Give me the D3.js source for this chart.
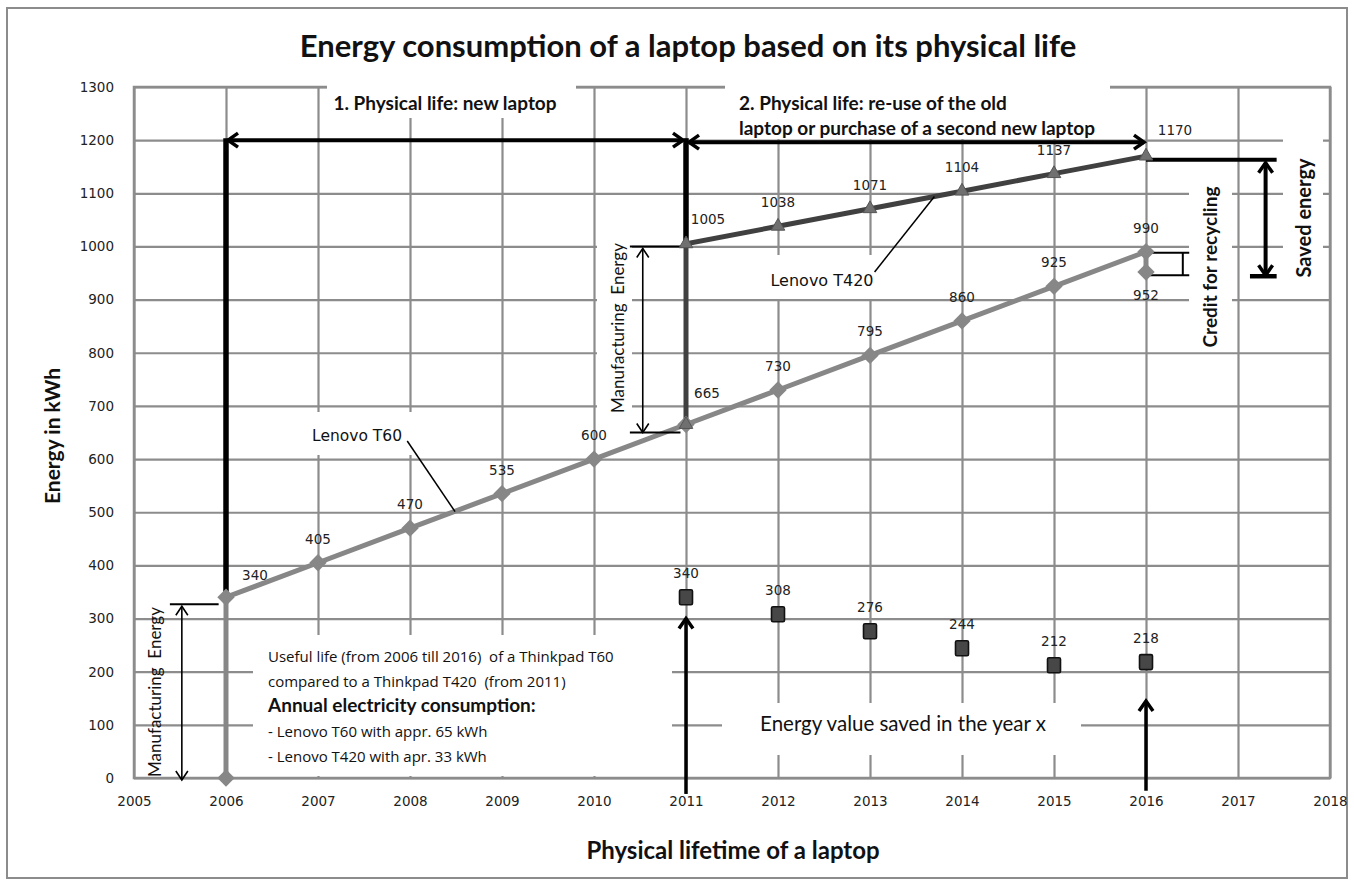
<!DOCTYPE html>
<html>
<head>
<meta charset="utf-8">
<script src="https://cdn.jsdelivr.net/npm/d3@7"></script>
<style>
  body { margin: 0; background: #fff; }
  .calibri { font-family: Lato, "Open Sans", sans-serif; }
  .tahoma { font-family: "DejaVu Sans", sans-serif; }
  .opensans { font-family: "Open Sans", sans-serif; }
  marker { overflow: visible; }
</style>
</head>
<body>
<div id="chart"></div>
<script>
// tick values
const xTickYears = [2005, 2006, 2007, 2008, 2009, 2010, 2011, 2012, 2013, 2014, 2015, 2016, 2017, 2018];
const yTickValues = [0, 100, 200, 300, 400, 500, 600, 700, 800, 900, 1000, 1100, 1200, 1300];

// Lenovo T60: manufacturing in 2006, then ~65 kWh per year, recycling credit at the end
const t60Years  = [2006, 2006, 2007, 2008, 2009, 2010, 2011, 2012, 2013, 2014, 2015, 2016, 2016];
const t60Energy = [0, 340, 405, 470, 535, 600, 665, 730, 795, 860, 925, 990, 952];

// Lenovo T420: bought in 2011 on top of the T60 total, then ~33 kWh per year
const t420Years  = [2011, 2011, 2012, 2013, 2014, 2015, 2016];
const t420Energy = [665, 1005, 1038, 1071, 1104, 1137, 1170];

// energy value saved in the year x
const savedYears  = [2011, 2012, 2013, 2014, 2015, 2016];
const savedEnergy = [340, 308, 276, 244, 212, 218];

const W = 1354, H = 883;
const margin = {top: 87, right: 24, bottom: 105, left: 134};

const svg = d3.select('#chart').append('svg')
    .attr('width', W)
    .attr('height', H);

// outer frame
svg.append('rect')
    .attr('x', 7).attr('y', 8)
    .attr('width', W - 14).attr('height', H - 13)
    .attr('fill', '#fff')
    .attr('stroke', '#8c8c8c')
    .attr('stroke-width', 2);

const x = d3.scaleLinear().domain([2005, 2018]).range([margin.left, W - margin.right]);
const y = d3.scaleLinear().domain([0, 1300]).range([H - margin.bottom, margin.top]);

const plotW = x(2018) - x(2005);
const plotH = y(0) - y(1300);

// axes with gridlines
const yAxis = svg.append('g')
    .attr('transform', `translate(${x(2005)},0)`)
    .call(d3.axisLeft(y).tickValues(yTickValues).tickSize(-plotW).tickPadding(20).tickFormat(d3.format('d')));
const xAxis = svg.append('g')
    .attr('transform', `translate(0,${y(0)})`)
    .call(d3.axisBottom(x).tickValues(xTickYears).tickSize(-plotH).tickPadding(18).tickFormat(d3.format('d')));

[xAxis, yAxis].forEach(g => {
  g.select('.domain').remove();
  g.selectAll('.tick line').attr('stroke', '#8c8c8c').attr('stroke-width', 2.2);
  g.selectAll('.tick text')
      .attr('class', 'tahoma')
      .attr('font-size', 13.5)
      .attr('fill', '#222');
});

// plot border
svg.append('rect')
    .attr('x', x(2005)).attr('y', y(1300))
    .attr('width', plotW).attr('height', plotH)
    .attr('fill', 'none')
    .attr('stroke', '#8c8c8c')
    .attr('stroke-width', 2.5);

// white backgrounds of the text boxes (they hide the gridlines)
const boxes = [
  [327, 79, 249, 39],    // 1. Physical life
  [725, 79, 385, 60],    // 2. Physical life
  [757, 255, 123, 44],   // Lenovo T420
  [300, 412, 118, 43],   // Lenovo T60
  [597, 240, 35, 178],   // Manufacturing Energy (middle)
  [253, 635, 419, 141],  // useful life text
  [722, 703, 359, 52],   // Energy value saved
  [1189, 178, 43, 172],  // Credit for recycling
  [1283, 130, 40, 165]   // Saved energy
];
svg.append('g').selectAll('rect')
  .data(boxes)
  .join('rect')
    .attr('x', d => d[0]).attr('y', d => d[1])
    .attr('width', d => d[2]).attr('height', d => d[3])
    .attr('fill', '#fff');

// arrow heads
const defs = svg.append('defs');
function chevron(id, sw, len, half) {
  defs.append('marker')
      .attr('id', id)
      .attr('markerUnits', 'userSpaceOnUse')
      .attr('viewBox', `${-len - 4} ${-half - 4} ${len + 8} ${2 * half + 8}`)
      .attr('markerWidth', len + 8)
      .attr('markerHeight', 2 * half + 8)
      .attr('refX', 0).attr('refY', 0)
      .attr('orient', 'auto-start-reverse')
    .append('path')
      .attr('d', `M${-len},${-half}L0,0L${-len},${half}`)
      .attr('fill', 'none')
      .attr('stroke', '#000')
      .attr('stroke-width', sw);
}
chevron('heavy', 3.5, 10, 7);
chevron('thin', 1.6, 9, 6);

const line = d3.line().x(d => x(d[0])).y(d => y(d[1]));

// series lines
const t60 = d3.zip(t60Years, t60Energy);
const t420 = d3.zip(t420Years, t420Energy);
const saved = d3.zip(savedYears, savedEnergy);

svg.append('path')
    .datum(t60)
    .attr('d', line)
    .attr('fill', 'none')
    .attr('stroke', '#878787')
    .attr('stroke-width', 5);

svg.append('path')
    .datum(t420)
    .attr('d', line)
    .attr('fill', 'none')
    .attr('stroke', '#404040')
    .attr('stroke-width', 5);

// black annotation lines
const ann = svg.append('g').attr('stroke', '#000').attr('fill', 'none');
function seg(x1, y1, x2, y2, w, start, end) {
  const l = ann.append('line')
      .attr('x1', x1).attr('y1', y1).attr('x2', x2).attr('y2', y2)
      .attr('stroke-width', w);
  if (start) l.attr('marker-start', `url(#${start})`);
  if (end) l.attr('marker-end', `url(#${end})`);
  return l;
}
// life spans
seg(x(2006) + 2, y(1200), x(2011) - 3, y(1200), 4, 'heavy', 'heavy');
seg(x(2011) + 3, y(1200) + 2, x(2016) - 2, y(1200) + 2, 4, 'heavy', 'heavy');
seg(x(2006), y(1200) - 2, x(2006), y(340), 5.5);
seg(x(2011), y(1200) - 2, x(2011), y(1005), 5.5);
// savings arrows (they start just under the plot area)
seg(x(2011), y(-30), x(2011), y(300), 3.5, null, 'heavy');
seg(x(2016), y(-24), x(2016), y(145), 3.5, null, 'heavy');
// manufacturing energy T60
seg(x(2005.39), y(327), x(2005.92), y(327), 2);
seg(x(2005.52), y(327) + 2, x(2005.52), y(0) + 2, 1.6, 'thin', 'thin');
// manufacturing energy T420
seg(x(2010.39), y(1000), x(2010.97), y(1000), 2);
seg(x(2010.39), y(650), x(2010.94), y(650), 2);
seg(x(2010.53), y(1000) + 2, x(2010.53), y(650), 1.6, 'thin', 'thin');
// credit for recycling bracket
seg(x(2016), y(988), x(2016.47), y(988), 2);
seg(x(2016), y(946), x(2016.47), y(946), 2);
seg(x(2016.4), y(988), x(2016.4), y(946), 2);
// saved energy
seg(x(2016), y(1163), x(2017.42), y(1163), 4);
seg(x(2017.3), y(1163) + 3, x(2017.3), y(944) - 1, 4, 'heavy', 'heavy');
seg(x(2017.13), y(944), x(2017.42), y(944), 4.5);
// leader lines of the series names
seg(x(2007.97), y(634), x(2008.49), y(501), 1.5);
seg(x(2013.05), y(952), x(2013.7), y(1094), 1.5);

// markers
svg.append('g').selectAll('path')
  .data(t60)
  .join('path')
    .attr('transform', d => `translate(${x(d[0])},${y(d[1])}) rotate(45)`)
    .attr('d', d3.symbol(d3.symbolSquare, 150))
    .attr('fill', '#878787');

svg.append('g').selectAll('path')
  .data(t420)
  .join('path')
    .attr('transform', d => `translate(${x(d[0])},${y(d[1])})`)
    .attr('d', d3.symbol(d3.symbolTriangle, 80))
    .attr('fill', '#707070')
    .attr('stroke', '#555')
    .attr('stroke-width', 1);

svg.append('g').selectAll('rect')
  .data(saved)
  .join('rect')
    .attr('x', d => x(d[0]) - 6.5)
    .attr('y', d => y(d[1]) - 7.5)
    .attr('width', 13).attr('height', 15)
    .attr('rx', 1.5)
    .attr('fill', '#474747')
    .attr('stroke', '#111')
    .attr('stroke-width', 1.6);

// data labels
function labels(data, skip, offsets) {
  svg.append('g').selectAll('text')
    .data(data.filter((d, i) => !skip.includes(i)))
    .join('text')
      .attr('class', 'tahoma')
      .attr('font-size', 13.5)
      .attr('fill', '#222')
      .attr('text-anchor', 'middle')
      .attr('x', d => x(d[0]) + ((offsets[d[0] + ':' + d[1]] || [0, -19])[0]))
      .attr('y', d => y(d[1]) + ((offsets[d[0] + ':' + d[1]] || [0, -19])[1]))
      .text(d => d[1]);
}
labels(t60, [0], {'2006:340': [29, -17], '2011:665': [21, -27], '2016:952': [0, 28]});
labels(t420, [0], {'2011:1005': [22, -20], '2016:1170': [29, -21]});
labels(saved, [], {});

// texts
function txt(cls, size, weight, tx, ty, anchor, s, rot) {
  return svg.append('text')
      .attr('class', cls)
      .attr('font-size', size)
      .attr('font-weight', weight)
      .attr('fill', '#111')
      .attr('text-anchor', anchor)
      .attr('transform', `translate(${tx},${ty})` + (rot ? ` rotate(${rot})` : ''))
      .style('white-space', 'pre')
      .text(s);
}
txt('calibri', 31, 'bold', 688, 57, 'middle', 'Energy consumption of a laptop based on its physical life');
txt('calibri', 24, 'bold', 733, 859, 'middle', 'Physical lifetime of a laptop');
txt('calibri', 21, 'bold', 60, 436, 'middle', 'Energy in kWh', -90);

txt('calibri', 19, 'bold', 445, 110, 'middle', '1. Physical life: new laptop');
txt('calibri', 19, 'bold', 739, 110, 'start', '2. Physical life: re-use of the old');
txt('calibri', 19, 'bold', 739, 135, 'start', 'laptop or purchase of a second new laptop');

txt('tahoma', 16, 'normal', 822, 286, 'middle', 'Lenovo T420');
txt('tahoma', 15.5, 'normal', 357, 441, 'middle', 'Lenovo T60');

txt('calibri', 17, 'normal', 161, 692, 'middle', 'Manufacturing  Energy', -90);
txt('calibri', 17, 'normal', 624, 328, 'middle', 'Manufacturing  Energy', -90);
txt('calibri', 19, 'bold', 1217, 267, 'middle', 'Credit for recycling', -90);
txt('calibri', 20, 'bold', 1311, 218, 'middle', 'Saved energy', -90);
txt('calibri', 20.5, 'normal', 903, 731, 'middle', 'Energy value saved in the year x');

const info = [
  ['opensans', 15, 'normal', 'Useful life (from 2006 till 2016)  of a Thinkpad T60'],
  ['opensans', 15, 'normal', 'compared to a Thinkpad T420  (from 2011)'],
  ['calibri', 19, 'bold', 'Annual electricity consumption:'],
  ['opensans', 15, 'normal', '- Lenovo T60 with appr. 65 kWh'],
  ['opensans', 15, 'normal', '- Lenovo T420 with apr. 33 kWh']
];
info.forEach((r, i) => txt(r[0], r[1], r[2], 268, 662 + i * 25, 'start', r[3]));
</script>
</body>
</html>
